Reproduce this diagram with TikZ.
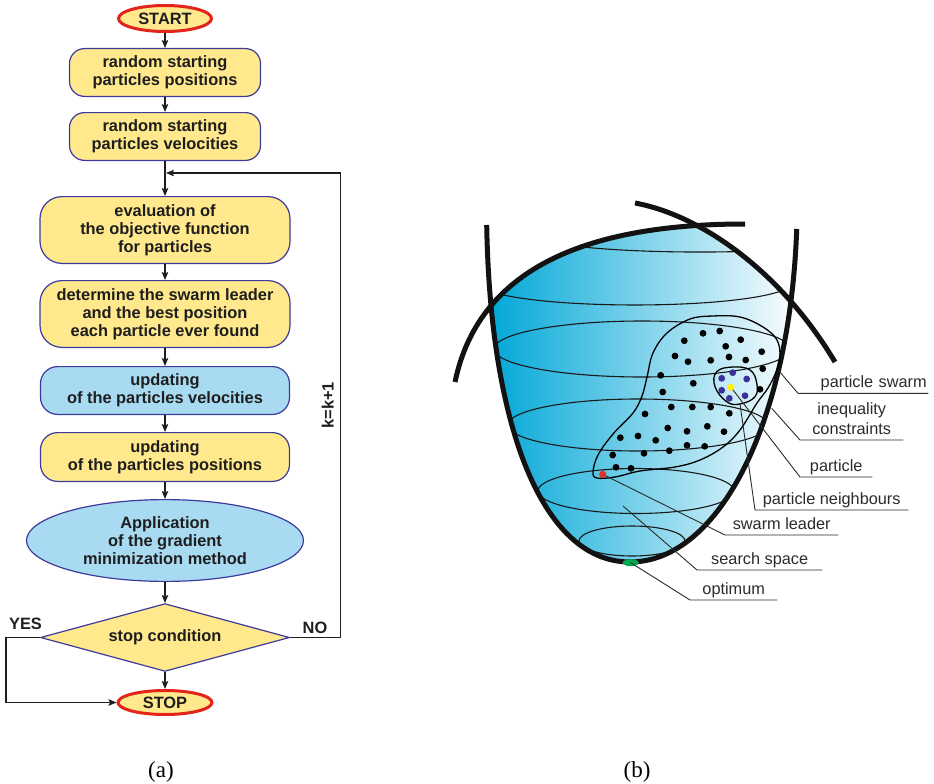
\documentclass[tikz,border=0pt]{standalone}
\usepackage{fontspec}
\setmainfont{Liberation Serif}
\newfontfamily\flowfont{Liberation Sans}
\usepackage{xcolor}
\definecolor{boxyellow}{HTML}{FFE98C}
\definecolor{boxblue}{HTML}{A8DBF1}
\definecolor{boxedge}{HTML}{3D3A9C}
\definecolor{stopred}{HTML}{E3241B}
\definecolor{ink}{HTML}{1E1E1E}
\definecolor{ink2}{HTML}{2B2B2B}
\definecolor{bowlblue}{HTML}{00A7D7}
\definecolor{nbblue}{HTML}{3B2F9C}
\definecolor{partyellow}{HTML}{FFF100}
\definecolor{leadred}{HTML}{E8301F}
\definecolor{optgreen}{HTML}{00A651}
\usepackage{tikz}
\usetikzlibrary{positioning,arrows.meta,shapes.geometric}

\begin{document}
\begin{tikzpicture}[x=1pt,y=-1pt,
  flow/.style={draw=boxedge,line width=1.2pt,align=center,text=ink,inner sep=0pt,
    font=\flowfont\bfseries\fontsize{16.4pt}{18pt}\selectfont},
  term/.style={flow,ellipse,draw=stopred,line width=3pt,fill=boxyellow},
  boxa/.style={flow,rounded corners=15pt,fill=boxyellow,minimum width=191pt,minimum height=47.8pt},
  boxb/.style={flow,rounded corners=22pt,fill=boxyellow,minimum width=250pt,minimum height=66.8pt},
  boxc/.style={flow,rounded corners=17pt,minimum width=249pt,minimum height=47.8pt},
  flowlab/.style={font=\flowfont\bfseries\fontsize{16.4pt}{18pt}\selectfont,text=ink,inner sep=0pt},
  arr/.style={-{Stealth[length=8pt,width=6.5pt,inset=1.5pt]},line width=1.2pt,color=ink},
  lab/.style={font=\flowfont\fontsize{16.3pt}{19.5pt}\selectfont,text=ink2,anchor=south west,
    inner xsep=0pt,inner ysep=2pt,text depth=3.5pt,align=center},
  lead/.style={line width=0.9pt,color=ink2},
  thick/.style={line width=5pt,color=black!93},
  level/.style={line width=1.1pt,color=black!90},
  dot/.style={circle,inner sep=0pt,minimum size=6.8pt}]
\useasboundingbox (0,0) rectangle (934,784);

% (a) flow chart
\node[term,minimum width=93pt,minimum height=26pt] (start) at (165,18.5) {START};
\node[boxa,below=15pt of start] (pos) {random starting\\particles positions};
\node[boxa,below=15pt of pos] (vel) {random starting\\particles velocities};
\node[boxb,below=35pt of vel] (eval) {evaluation of\\the objective function\\for particles};
\node[boxb,below=16pt of eval] (best) {determine the swarm leader\\and the best position\\each particle ever found};
\node[boxc,fill=boxblue,below=18pt of best] (updv) {updating\\of the particles velocities};
\node[boxc,fill=boxyellow,minimum height=48.8pt,below=17pt of updv] (updp) {updating\\of the particles positions};
\node[flow,ellipse,fill=boxblue,minimum width=277pt,minimum height=81.8pt,below=17pt of updp] (grad)
  {Application\\of the gradient\\minimization method};
\node[flow,diamond,aspect=3.6,fill=boxyellow,minimum width=249pt,minimum height=67.8pt,below=21pt of grad] (cond)
  {stop condition};
\node[term,minimum width=94pt,minimum height=24pt,below=17pt of cond] (stop) {STOP};

\foreach \a/\b in {start/pos,pos/vel,vel/eval,eval/best,best/updv,updv/updp,updp/grad,grad/cond,cond/stop}
  \draw[arr] (\a) -- (\b);

\coordinate (back) at (166,173);
\draw[arr] (cond.east) -- ++(50pt,0) coordinate (turn) -- (turn |- back)
  node[flowlab,midway,rotate=90,anchor=south,inner sep=6pt] (kk) {k=k+1} -- (back);
\draw[arr] (cond.west) -- ++(-34pt,0) |- (stop.west);
\node[flowlab] (yes) at (25.5,624) {YES};
\node[flowlab] (no) at (315,627.5) {NO};

% (b) search space
\begin{scope}
  \clip (486.7,225) .. controls (490,420) and (540,562) .. (630,562)
    .. controls (720,562) and (790,420) .. (796.7,229) -- cycle;
  \clip (455,382) .. controls (478,272) and (580,224) .. (745,224) -- (900,224) -- (900,600) -- (455,600) -- cycle;
  \clip (635,203) .. controls (700,215) and (780,270) .. (835,362) -- (835,600) -- (420,600) -- (420,203) -- cycle;
  \shade[left color=bowlblue,right color=white] (488,200) rectangle (800,570);
  % level lines
  \draw[level] (530,232) .. controls (530,258.7) and (870,258.7) .. (870,232);
  \draw[level] (475,280) .. controls (475,313.3) and (795,313.3) .. (795,280);
  \draw[level] (642,349) ellipse[x radius=148,y radius=28];
  \draw[level] (638,425) ellipse[x radius=130,y radius=26];
  \draw[level] (636,491) ellipse[x radius=98,y radius=22.5];
  \draw[level] (632,541) ellipse[x radius=53,y radius=15];
\end{scope}

\draw[thick] (486.7,225) .. controls (490,420) and (540,562) .. (630,562)
  .. controls (720,562) and (790,420) .. (796.7,229);
\draw[thick] (455,382) .. controls (478,272) and (580,224) .. (745,224);
\draw[thick] (635,203) .. controls (700,215) and (780,270) .. (835,362);

% swarm and neighbourhood
\draw[line width=1.3pt] plot[smooth cycle,tension=0.6] coordinates {
  (713,316) (740,317) (763,327) (777,340) (780,357) (776,372) (768,388) (757,403)
  (740,430) (723,447) (700,460) (675,467) (640,471) (615,477) (597,478) (593,472)
  (598,455) (613,434) (633,413) (642,396) (647,377) (653,353) (667,333) (690,319)};
\draw[line width=1.3pt] plot[smooth cycle,tension=0.7] coordinates {
  (716.7,371.7) (733,367) (750,370) (756.7,383) (755,396.7) (740,404) (726.7,401.7) (715,386.7)};

\coordinate (swarmpt) at (779,371);
\coordinate (ineqpt) at (771.7,408.3);
\coordinate (nbrpt) at (740,404);
\coordinate (spacept) at (623,506);
\node[dot,fill=partyellow] (part) at (731,387.3) {};
\node[dot,fill=leadred] (leader) at (602.7,474.3) {};
\node[ellipse,fill=optgreen,inner sep=0pt,minimum width=16pt,minimum height=7pt] (opt) at (630.7,562.7) {};

\node[lab,minimum width=130pt,text width=127pt,align=right] (lswarm) at (798,393.3) {particle swarm};
\node[lab,minimum width=103pt] (lineq) at (800,440) {inequality\\constraints};
\node[lab,minimum width=72pt] (lpart) at (800,477) {particle};
\node[lab,minimum width=153pt] (lnbr) at (755,510) {particle neighbours};
\node[lab,minimum width=113pt] (llead) at (725,535) {swarm leader};
\node[lab,minimum width=125pt] (lspace) at (697,570) {search space};
\node[lab,minimum width=87pt] (lopt) at (690,600) {optimum};

\draw[lead] (swarmpt) -- (lswarm.south west) -- (lswarm.south east);
\draw[lead] (ineqpt) -- (lineq.south west) -- (lineq.south east);
\draw[lead] (part.center) -- (lpart.south west) -- (lpart.south east);
\draw[lead] (nbrpt) -- (lnbr.south west) -- (lnbr.south east);
\draw[lead] (leader.center) -- (llead.south west) -- (llead.south east);
\draw[lead] (spacept) -- (lspace.south west) -- (lspace.south east);
\draw[lead] (opt.center) -- (lopt.south west) -- (lopt.south east);

\foreach \p in {(684.3,340.7),(703,333.3),(719.7,331),(740.7,339.7),(725.7,346.3),(761.7,351.7),
  (675,356),(688,361.7),(710.7,360.3),(729,357),(745.7,360),(762.7,368.7),(660.7,375.3),
  (693.3,383.3),(662.7,392),(760,389.3),(671.3,407),(692.3,407),(710.7,407),(729.3,413.3),
  (645,414),(667.7,428),(687,431.3),(707.3,426.3),(724,431.7),(620.3,437.7),(638,436),
  (655.7,440.3),(612.7,455),(644,453.3),(669.3,450.7),(687,445.3),(704.7,446.3),
  (616,467.3),(631,468.3)}
  \fill[black] \p circle[radius=3.4pt];
\foreach \p in {(721.7,378.3),(732.7,372.7),(746.7,379),(721.7,390.3),(729.3,398.3),(745,395.7)}
  \fill[nbblue] \p circle[radius=3.4pt];
\node[dot,fill=partyellow] at (part) {};
\node[dot,fill=leadred] at (leader) {};

% captions
\node[font=\fontsize{23pt}{23pt}\selectfont] (capa) at (161,772) {(a)};
\node[font=\fontsize{23pt}{23pt}\selectfont] (capb) at (637,772) {(b)};
\end{tikzpicture}
\end{document}
